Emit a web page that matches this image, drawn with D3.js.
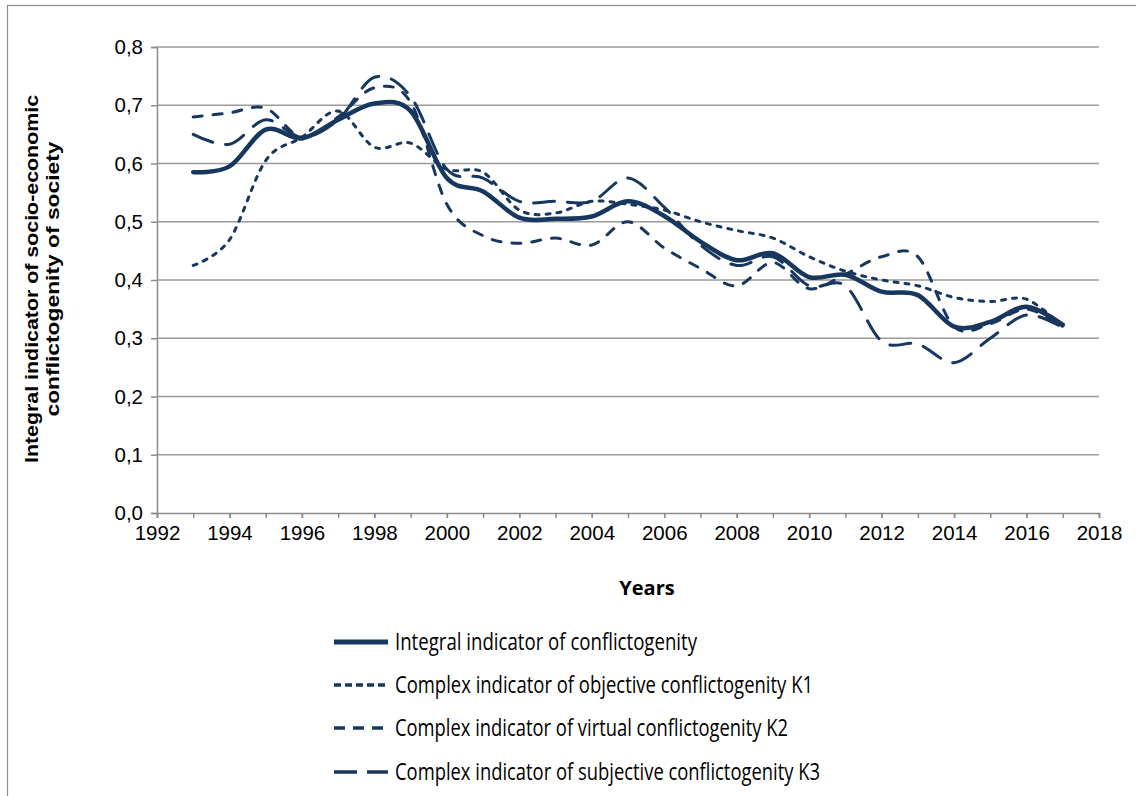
<!DOCTYPE html>
<html>
<head>
<meta charset="utf-8">
<script src="https://cdn.jsdelivr.net/npm/d3@7/dist/d3.min.js"></script>
<style>
  html, body { margin: 0; padding: 0; background: #fff; }
  svg { display: block; }
</style>
</head>
<body>
<svg id="chart" width="1136" height="796"></svg>
<script>
// ---- data ----
const years = [1993,1994,1995,1996,1997,1998,1999,2000,2001,2002,2003,2004,2005,2006,2007,2008,2009,2010,2011,2012,2013,2014,2015,2016,2017];
const integral = [0.585,0.595,0.658,0.643,0.675,0.703,0.69,0.575,0.552,0.507,0.505,0.509,0.535,0.51,0.466,0.434,0.446,0.405,0.409,0.38,0.374,0.32,0.328,0.354,0.323];
const k1 = [0.425,0.469,0.605,0.645,0.69,0.628,0.635,0.59,0.585,0.52,0.515,0.535,0.53,0.52,0.50,0.485,0.472,0.44,0.415,0.40,0.39,0.37,0.363,0.367,0.32];
const k2 = [0.68,0.687,0.695,0.645,0.68,0.73,0.705,0.53,0.476,0.463,0.472,0.46,0.50,0.455,0.42,0.39,0.43,0.385,0.41,0.44,0.44,0.32,0.325,0.35,0.32];
const k3 = [0.65,0.633,0.675,0.645,0.675,0.748,0.715,0.59,0.575,0.535,0.535,0.535,0.575,0.525,0.46,0.425,0.44,0.39,0.39,0.295,0.29,0.258,0.30,0.34,0.318];
const seriesNames = [
  "Integral indicator of conflictogenity",
  "Complex indicator of objective conflictogenity K1",
  "Complex indicator of virtual conflictogenity K2",
  "Complex indicator of subjective conflictogenity K3"
];
const xTickValues = [1992,1994,1996,1998,2000,2002,2004,2006,2008,2010,2012,2014,2016,2018];
const yTickValues = [0,0.1,0.2,0.3,0.4,0.5,0.6,0.7,0.8];
const xTitle = "Years";
const yTitleLines = ["Integral indicator of socio-economic", "conflictogenity  of society"];

// ---- styles ----
const navy = "#17375e";
const styles = [
  {width: 4.5, dash: null, legendDash: null},
  {width: 3, dash: "4,7", legendDash: "7,4"},
  {width: 3, dash: "9,11", legendDash: "11,8"},
  {width: 3, dash: "21,13", legendDash: "23,10"}
];
const seriesData = [integral, k1, k2, k3];

const svg = d3.select("#chart");

// outer frame
svg.append("rect").attr("x", 7.5).attr("y", 5.5).attr("width", 1140).attr("height", 800)
  .attr("fill", "none").attr("stroke", "#8c8c8c").attr("stroke-width", 1.2);

const x = d3.scaleLinear().domain([1992, 2018]).range([157, 1099]);
const y = d3.scaleLinear().domain([0, 0.8]).range([513, 47]);

// gridlines
svg.append("g").selectAll("line").data(yTickValues.filter(v => v > 0)).join("line")
  .attr("x1", x(1992)).attr("x2", x(2018))
  .attr("y1", d => y(d)).attr("y2", d => y(d))
  .attr("stroke", "#9a9a9a").attr("stroke-width", 1.5);

// y axis
const yAxis = d3.axisLeft(y).tickValues(yTickValues).tickSize(6).tickPadding(8)
  .tickFormat(d => d.toFixed(1).replace(".", ","));
const gy = svg.append("g").attr("transform", `translate(${x(1992)},0)`).call(yAxis);
gy.select(".domain").attr("stroke", "#8c8c8c").attr("stroke-width", 1.5);
gy.selectAll(".tick line").attr("stroke", "#8c8c8c").attr("stroke-width", 1.5);
gy.selectAll(".tick text").attr("font-family", "Liberation Sans, Arial, sans-serif")
  .attr("font-size", 20.5).attr("fill", "#000");

// x axis (minor ticks every year)
const xAxisMinor = d3.axisBottom(x).ticks(26).tickSize(5).tickFormat("");
const gxm = svg.append("g").attr("transform", `translate(0,${y(0)})`).call(xAxisMinor);
gxm.select(".domain").remove();
gxm.selectAll(".tick line").attr("stroke", "#8c8c8c").attr("stroke-width", 1.5);

const xAxis = d3.axisBottom(x).tickValues(xTickValues).tickSize(5).tickPadding(7).tickFormat(d3.format("d"));
const gx = svg.append("g").attr("transform", `translate(0,${y(0)})`).call(xAxis);
gx.select(".domain").attr("stroke", "#8c8c8c").attr("stroke-width", 1.5);
gx.selectAll(".tick line").attr("stroke", "#8c8c8c").attr("stroke-width", 1.5);
gx.selectAll(".tick text").attr("font-family", "Liberation Sans, Arial, sans-serif")
  .attr("font-size", 20.5).attr("fill", "#000");

// lines
const line = d3.line().x((d, i) => x(years[i])).y(d => y(d)).curve(d3.curveCardinal.tension(0));
const order = [1, 2, 3, 0];
order.forEach(si => {
  svg.append("path").datum(seriesData[si])
    .attr("d", line)
    .attr("fill", "none")
    .attr("stroke", navy)
    .attr("stroke-width", styles[si].width)
    .attr("stroke-dasharray", styles[si].dash)
    .attr("stroke-linecap", "round")
    .attr("stroke-linejoin", "round");
});

// axis titles
svg.append("text").attr("x", 647).attr("y", 595).attr("text-anchor", "middle")
  .attr("font-family", "Open Sans, sans-serif").attr("font-weight", "bold")
  .attr("font-size", 20).attr("fill", "#000").text(xTitle);

const yTitleLens = [368, 275];
yTitleLines.forEach((t, i) => {
  svg.append("text")
    .attr("transform", `translate(${38 + i * 21},279) rotate(-90)`)
    .attr("text-anchor", "middle")
    .attr("font-family", "Liberation Sans, Arial, sans-serif").attr("font-weight", "bold")
    .attr("font-size", 18.5).attr("fill", "#000")
    .attr("textLength", yTitleLens[i]).attr("lengthAdjust", "spacingAndGlyphs")
    .text(t);
});

// legend
const legendRows = [642, 685, 728, 772];
const legendWidths = [302, 418, 393, 425];
const lg = svg.append("g");
seriesNames.forEach((name, i) => {
  lg.append("line").attr("x1", 334).attr("x2", 388)
    .attr("y1", legendRows[i]).attr("y2", legendRows[i])
    .attr("stroke", navy).attr("stroke-width", styles[i].width + 0.5)
    .attr("stroke-dasharray", styles[i].legendDash);
  lg.append("text").attr("x", 395).attr("y", legendRows[i] + 8)
    .attr("font-family", "Liberation Sans Narrow, Open Sans, sans-serif")
    .attr("font-size", 23.5).attr("fill", "#000")
    .attr("textLength", legendWidths[i]).attr("lengthAdjust", "spacingAndGlyphs")
    .text(name);
});
</script>
</body>
</html>
